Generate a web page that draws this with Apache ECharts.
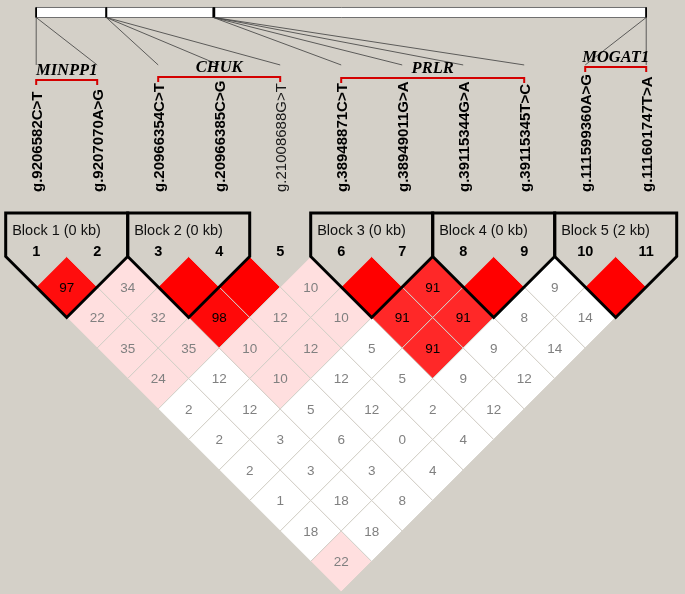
<!DOCTYPE html>
<html><head><meta charset="utf-8">
<script src="https://cdn.jsdelivr.net/npm/echarts@6/dist/echarts.min.js"></script>
<style>html,body{margin:0;padding:0;background:#d4d0c8}#c{width:685px;height:594px}</style>
</head><body><div id="c"></div>
<script>
// ---------- DATA ----------
const snpNames = ['g.9206582C>T','g.9207070A>G','g.20966354C>T','g.20966385C>G','g.21008688G>T',
  'g.38948871C>T','g.38949011G>A','g.39115344G>A','g.39115345T>C','g.111599360A>G','g.111601747T>A'];
const snpPositions = [9206582, 9207070, 20966354, 20966385, 21008688,
  38948871, 38949011, 39115344, 39115345, 111599360, 111601747];
const blockNames = ['Block 1 (0 kb)','Block 2 (0 kb)','Block 3 (0 kb)','Block 4 (0 kb)','Block 5 (2 kb)'];
const blockStart = [1, 3, 6, 8, 10];
const blockEnd   = [2, 4, 7, 9, 11];
const geneNames = ['MINPP1','CHUK','PRLR','MOGAT1'];
const geneStart = [1, 3, 6, 10];
const geneEnd   = [2, 5, 9, 11];
// D' x100 for pair (i, j>i); row i lists j = i+1 .. 11
const dprimeRows = [
  [97, 22, 35, 24, 2, 2, 2, 1, 18, 22],
  [34, 32, 35, 12, 12, 3, 3, 18, 18],
  [100, 98, 10, 10, 5, 6, 3, 8],
  [100, 12, 12, 12, 12, 0, 4],
  [10, 10, 5, 5, 2, 4],
  [100, 91, 91, 9, 12],
  [91, 91, 9, 12],
  [100, 8, 14],
  [9, 14],
  [100]
];
// 1 = LOD >= 2 (coloured), 0 = LOD < 2 (white)
const lodStrongRows = [
  [1, 1, 1, 1, 0, 0, 0, 0, 0, 1],
  [1, 1, 1, 0, 0, 0, 0, 0, 0],
  [1, 1, 1, 1, 0, 0, 0, 0],
  [1, 1, 1, 0, 0, 0, 0],
  [1, 1, 0, 0, 0, 0],
  [1, 1, 1, 0, 0],
  [1, 1, 0, 0],
  [1, 0, 0],
  [0, 0],
  [1]
];

// ---------- LAYOUT (y in matrix-row units, x in marker units) ----------
const X_MIN = 0.40656, X_MAX = 11.636;
const Y_MIN = -8.4098, Y_MAX = 11.0656;
const BAR_TOP = -8.164, BAR_BOT = -7.836;
const CONN_END = -6.28;
const LABEL_BASE = -2.115;
const BLOCK_TOP = -1.426, BLOCK_LABEL = -0.836, SNP_NUM = -0.148;
const GENE_BRACKET = [-5.787, -5.885, -5.852, -6.213];
const BG = '#d4d0c8';
const SANS = '"Liberation Sans", Arial, sans-serif';
const SERIF = '"Liberation Serif", "Times New Roman", serif';

const nSnp = snpNames.length;
const posFirst = snpPositions[0], posLast = snpPositions[nSnp - 1];
const physToMarker = p => 1 + (nSnp - 1) * (p - posFirst) / (posLast - posFirst);

const cellData = [];
dprimeRows.forEach((row, r) => row.forEach((d, c) => {
  cellData.push([r + 1, r + 2 + c, d, lodStrongRows[r][c]]);
}));
const snpData = snpNames.map((n, k) => {
  const s = k + 1;
  const inBlock = blockStart.some((a, b) => s >= a && s <= blockEnd[b]);
  return [s, snpPositions[k], inBlock ? 1 : 0];
});
const blockData = blockStart.map((a, b) => [a, blockEnd[b], b]);
const geneData = geneStart.map((a, g) => [a, geneEnd[g], g]);

function cellItem(params, api) {
  const i = api.value(0), j = api.value(1), d = api.value(2), s = api.value(3);
  const m = (i + j) / 2, k = j - i;
  const pts = [api.coord([m - 0.5, k]), api.coord([m, k - 1]), api.coord([m + 0.5, k]), api.coord([m, k + 1])];
  const c = api.coord([m, k]);
  let fill = '#ffffff', tc = '#808080';
  if (s) {
    if (d >= 100) { fill = '#ff0000'; }
    else {
      const g = Math.min(223, Math.round(446 * (1 - d / 100)));
      fill = 'rgb(255,' + g + ',' + g + ')';
      if (g < 128) tc = '#000000';
    }
  }
  const children = [{ type: 'polygon', shape: { points: pts }, style: { fill: fill, stroke: BG, lineWidth: 1 } }];
  if (d < 100) children.push({ type: 'text', x: c[0], y: c[1] + 1,
    style: { text: String(d), fill: tc, font: '13.5px ' + SANS, align: 'center', verticalAlign: 'middle' } });
  return { type: 'group', children: children };
}

function blockItem(params, api) {
  const a = api.value(0), b = api.value(1), idx = api.value(2);
  const pts = [api.coord([a - 0.5, BLOCK_TOP]), api.coord([b + 0.5, BLOCK_TOP]), api.coord([b + 0.5, 0]),
    api.coord([(a + b) / 2, b - a + 1]), api.coord([a - 0.5, 0])];
  const lp = api.coord([a - 0.5, BLOCK_LABEL]);
  return { type: 'group', children: [
    { type: 'polygon', shape: { points: pts }, style: { fill: null, stroke: '#000', lineWidth: 3, lineJoin: 'miter' } },
    { type: 'text', x: lp[0] + 6.5, y: lp[1], style: { text: blockNames[idx], fill: '#111', font: '14.5px ' + SANS, align: 'left', verticalAlign: 'middle' } }
  ] };
}

function snpItem(params, api) {
  const s = api.value(0), pos = api.value(1), bold = api.value(2);
  const top = api.coord([physToMarker(pos), BAR_BOT]);
  const end = api.coord([s, CONN_END]);
  const lab = api.coord([s, LABEL_BASE]);
  const num = api.coord([s, SNP_NUM]);
  return { type: 'group', children: [
    { type: 'line', shape: { x1: top[0], y1: top[1], x2: end[0], y2: end[1] }, style: { stroke: '#3c3c3c', lineWidth: 0.8 } },
    { type: 'text', x: lab[0] + 1.5, y: lab[1], rotation: Math.PI / 2,
      style: { text: snpNames[s - 1], fill: bold ? '#000' : '#1a1a1a', font: (bold ? 'bold ' : '') + '15px ' + SANS, align: 'left', verticalAlign: 'middle' } },
    { type: 'text', x: num[0], y: num[1], style: { text: String(s), fill: '#000', font: 'bold 14.5px ' + SANS, align: 'center', verticalAlign: 'middle' } }
  ] };
}

function barItem(params, api) {
  if (params.dataIndex !== 0) return null;
  const p0 = api.coord([1, BAR_TOP]), p1 = api.coord([nSnp, BAR_BOT]);
  const children = [{ type: 'rect', shape: { x: p0[0], y: p0[1], width: p1[0] - p0[0], height: p1[1] - p0[1] },
    style: { fill: '#ffffff', stroke: '#707070', lineWidth: 1 } }];
  snpPositions.forEach(p => {
    const t = api.coord([physToMarker(p), BAR_TOP]), b = api.coord([physToMarker(p), BAR_BOT]);
    children.push({ type: 'line', shape: { x1: t[0], y1: t[1], x2: b[0], y2: b[1] }, style: { stroke: '#000', lineWidth: 1.5 } });
  });
  return { type: 'group', children: children };
}

function geneItem(params, api) {
  const a = api.value(0), b = api.value(1), g = api.value(2);
  const y = GENE_BRACKET[g];
  const l = api.coord([a, y]), r = api.coord([b, y]), c = api.coord([(a + b) / 2, y]);
  return { type: 'group', children: [
    { type: 'polyline', shape: { points: [[l[0], l[1] + 5], l, r, [r[0], r[1] + 5]] }, style: { stroke: '#d40000', lineWidth: 2, fill: null } },
    { type: 'text', x: c[0], y: c[1] - 1, style: { text: geneNames[g], fill: '#000', font: 'italic bold 16.5px ' + SERIF, align: 'center', verticalAlign: 'bottom' } }
  ] };
}

const chart = echarts.init(document.getElementById('c'), null, { renderer: 'canvas' });
chart.setOption({
  backgroundColor: BG,
  animation: false,
  grid: { left: 0, right: 0, top: 0, bottom: 0 },
  xAxis: { type: 'value', min: X_MIN, max: X_MAX, show: false },
  yAxis: { type: 'value', min: Y_MIN, max: Y_MAX, inverse: true, show: false },
  series: [
    { type: 'custom', data: [[1, 0]], renderItem: barItem, silent: true },
    { type: 'custom', data: snpData, renderItem: snpItem, silent: true },
    { type: 'custom', data: geneData, renderItem: geneItem, silent: true },
    { type: 'custom', data: cellData, renderItem: cellItem, silent: true },
    { type: 'custom', data: blockData, renderItem: blockItem, silent: true }
  ]
});
</script></body></html>
